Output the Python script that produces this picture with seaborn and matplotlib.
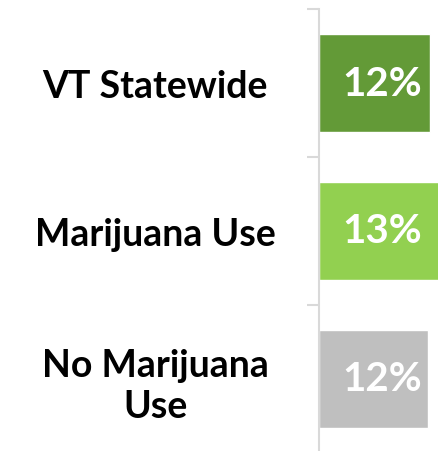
import matplotlib
matplotlib.use("Agg")
import matplotlib.pyplot as plt
import seaborn as sns

categories = ["VT Statewide", "Marijuana Use", "No Marijuana\nUse"]
values = [12.1, 13.1, 11.9]
value_labels = ["12%", "13%", "12%"]
colors = ["#639a37", "#92d050", "#bfbfbf"]

sns.set_style("white")
plt.rcParams["font.family"] = ["Lato", "DejaVu Sans"]

fig = plt.figure(figsize=(4.39, 4.52), dpi=100)
ax = fig.add_axes([319 / 439, -2 / 452, 120 / 439, 444 / 452])

sns.barplot(x=values, y=categories, hue=categories, palette=colors,
            width=0.66, orient="h", legend=False, ax=ax, saturation=1)

ax.set_xlim(0, 13.08)
ax.set_ylim(2.5, -0.5)
ax.set_xlabel("")
ax.set_ylabel("")
ax.set_xticks([])

for s in ["top", "right", "bottom"]:
    ax.spines[s].set_visible(False)
ax.spines["left"].set_color("#d9d9d9")
ax.spines["left"].set_linewidth(1.5)

ax.set_yticks([0, 1, 2])
ax.set_yticklabels(categories, fontsize=27, fontweight="bold", color="black")
ax.set_yticks([-0.5, 0.5, 1.5, 2.5], minor=True)
ax.tick_params(axis="y", which="major", length=0, pad=118)
ax.tick_params(axis="y", which="minor", length=9, width=1.5, color="#d9d9d9", left=True)
for lab in ax.get_yticklabels():
    lab.set_horizontalalignment("center")
    lab.set_multialignment("center")
    lab.set_linespacing(1.25)

for i, txt in enumerate(value_labels):
    ax.text(6.9, i, txt, ha="center", va="center", color="white",
            fontsize=29, fontweight="bold")

fig.savefig("out.png", dpi=100)
